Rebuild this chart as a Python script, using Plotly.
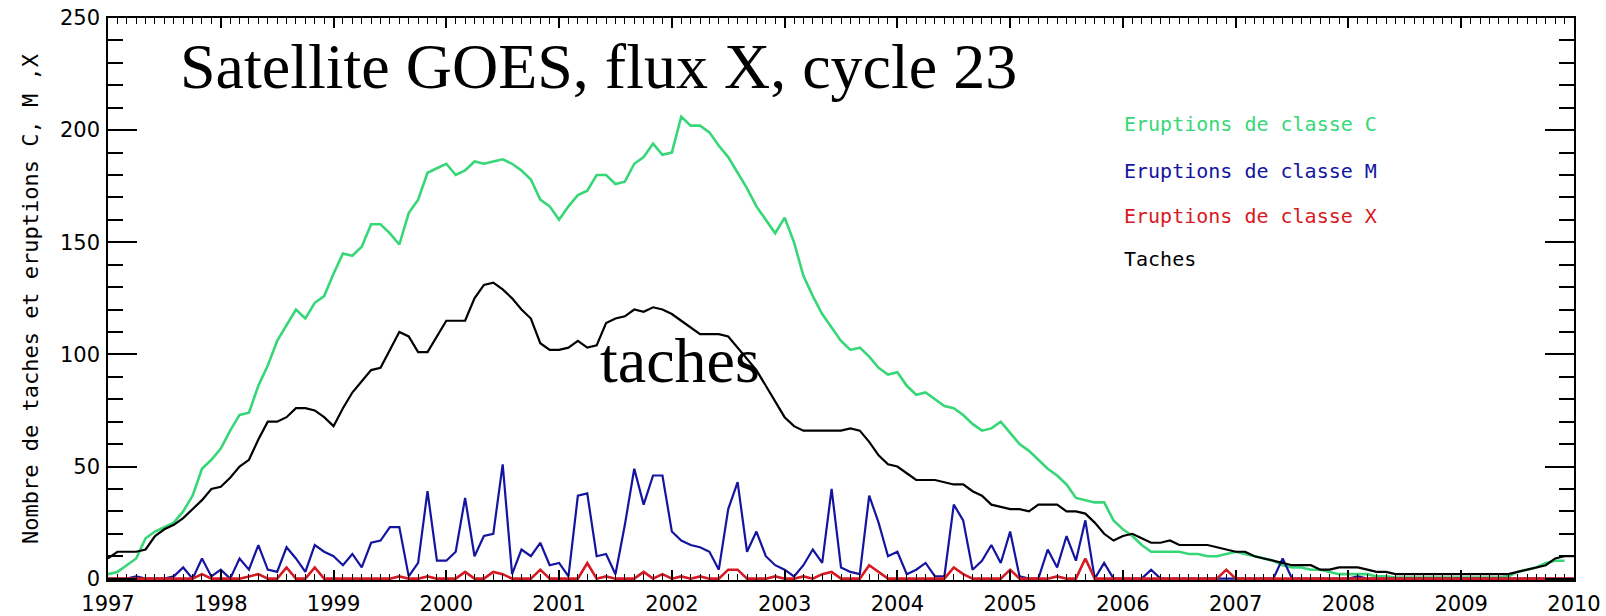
import plotly.graph_objects as go

# monthly values, Jan 1997 -> Jan 2010
classe_c = [2, 3, 6, 9, 18, 21, 23, 25, 30, 37,
            49, 53, 58, 66, 73, 74, 86, 95, 106, 113,
            120, 116, 123, 126, 136, 145, 144, 148, 158, 158,
            154, 149, 163, 169, 181, 183, 185, 180, 182, 186,
            185, 186, 187, 185, 182, 178, 169, 166, 160, 166,
            171, 173, 180, 180, 176, 177, 185, 188, 194, 189,
            190, 206, 202, 202, 199, 193, 188, 181, 174, 166,
            160, 154, 161, 150, 135, 126, 118, 112, 106, 102,
            103, 99, 94, 91, 92, 86, 82, 83, 80, 77,
            76, 73, 69, 66, 67, 70, 65, 60, 57, 53,
            49, 46, 42, 36, 35, 34, 34, 26, 22, 19,
            15, 12, 12, 12, 12, 11, 11, 10, 10, 11,
            12, 11, 10, 9, 8, 6, 5, 5, 4, 4,
            3, 2, 2, 2, 2, 1, 1, 0.5, 0.5, 0.5,
            0.5, 0.5, 0.5, 0.5, 0.5, 0.5, 0.5, 0.5, 0.5, 1,
            3, 4, 5, 7, 8, 8]

classe_m = [0, 0, 0, 1, 0, 0, 0, 1, 5, 0,
            9, 1, 4, 0, 9, 4, 15, 4, 3, 14,
            9, 3, 15, 12, 10, 6, 11, 5, 16, 17,
            23, 23, 1, 7, 39, 8, 8, 12, 36, 10,
            19, 20, 51, 2, 13, 10, 16, 6, 7, 1,
            37, 38, 10, 11, 2, 24, 49, 33, 46, 46,
            21, 17, 15, 14, 12, 4, 31, 43, 12, 21,
            10, 6, 4, 1, 6, 13, 7, 40, 5, 3,
            2, 37, 25, 10, 12, 2, 4, 7, 1, 1,
            33, 26, 4, 8, 15, 7, 21, 1, 0, 0,
            13, 5, 19, 8, 26, 0, 7, 0, 0, 0,
            0, 4, 0, 0, 0, 0, 0, 0, 0, 0,
            0, 0, 0, 0, 0, 9, 0, 0, 0, 0,
            0, 0, 0, 1, 0, 0, 0, 0, 0, 0,
            0, 0, 0, 0, 0, 0, 0, 0, 0, 0,
            0, 0, 0, 0, 0, 0, 0]

classe_x = [0, 0, 0, 0, 0, 0, 0, 0, 0, 0,
            2, 0, 0, 0, 0, 1, 2, 0, 0, 5,
            0, 0, 5, 0, 0, 0, 0, 0, 0, 0,
            0, 1, 0, 0, 1, 0, 0, 0, 3, 0,
            0, 3, 2, 0, 0, 0, 4, 0, 0, 0,
            0, 7, 0, 1, 0, 0, 0, 3, 0, 2,
            0, 1, 0, 1, 0, 0, 4, 4, 0, 0,
            0, 1, 0, 0, 1, 0, 2, 3, 0, 0,
            0, 6, 3, 0, 0, 0, 0, 0, 0, 0,
            5, 2, 0, 0, 0, 0, 4, 0, 0, 0,
            0, 1, 0, 0, 9, 0, 0, 0, 0, 0,
            0, 0, 0, 0, 0, 0, 0, 0, 0, 4,
            0, 0, 0, 0, 0, 0, 0, 0, 0, 0,
            0, 0, 0, 0, 0, 0, 0, 0, 0, 0,
            0, 0, 0, 0, 0, 0, 0, 0, 0, 0,
            0, 0, 0, 0, 0, 0, 0]

taches = [9, 12, 12, 12, 13, 19, 22, 24, 27, 31,
          35, 40, 41, 45, 50, 53, 62, 70, 70, 72,
          76, 76, 75, 72, 68, 76, 83, 88, 93, 94,
          102, 110, 108, 101, 101, 108, 115, 115, 115, 125,
          131, 132, 129, 125, 120, 116, 105, 102, 102, 103,
          106, 103, 104, 114, 116, 117, 120, 119, 121, 120,
          118, 115, 112, 109, 109, 109, 108, 103, 98, 93,
          86, 79, 72, 68, 66, 66, 66, 66, 66, 67,
          66, 61, 55, 51, 50, 47, 44, 44, 44, 43,
          42, 42, 39, 37, 33, 32, 31, 31, 30, 33,
          33, 33, 30, 30, 29, 25, 20, 17, 19, 20,
          18, 16, 16, 17, 15, 15, 15, 15, 14, 13,
          12, 12, 10, 9, 8, 7, 6, 6, 6, 4,
          4, 5, 5, 5, 4, 3, 3, 2, 2, 2,
          2, 2, 2, 2, 2, 2, 2, 2, 2, 2,
          3, 4, 5, 6, 9, 10, 10]

months = [1997 + k / 12 for k in range(len(taches))]

GREEN = "rgb(55,215,120)"
BLUE = "rgb(20,20,160)"
RED = "rgb(215,25,35)"

series = [
    ("Eruptions de classe C", classe_c, GREEN, 2.6),
    ("Eruptions de classe M", classe_m, BLUE, 2.2),
    ("Eruptions de classe X", classe_x, RED, 2.6),
    ("Taches", taches, "black", 2.2),
]

fig = go.Figure()
for name, vals, col, w in series:
    fig.add_trace(go.Scatter(x=months[:len(vals)], y=vals, mode="lines", name=name,
                             line=dict(color=col, width=w)))

# legend written as plain coloured text, like the IDL original
leg_y = [0.811, 0.727, 0.647, 0.572]
for (name, _, col, _), yy in zip(series, leg_y):
    fig.add_annotation(x=0.6917, y=yy, xref="paper", yref="paper", text=name,
                       showarrow=False, xanchor="left", yanchor="middle",
                       font=dict(family="DejaVu Sans Mono", size=20, color=col))

fig.add_annotation(x=0.048, y=0.913, xref="paper", yref="paper",
                   text="Satellite GOES, flux X, cycle 23", showarrow=False,
                   xanchor="left", yanchor="middle",
                   font=dict(family="Liberation Serif", size=64, color="black"))
fig.add_annotation(x=0.3345, y=0.390, xref="paper", yref="paper",
                   text="taches", showarrow=False, xanchor="left", yanchor="middle",
                   font=dict(family="Liberation Serif", size=64, color="black"))

axis_common = dict(showline=True, linecolor="black", linewidth=1.5, mirror="allticks",
                   ticks="inside", tickcolor="black", tickwidth=1.5,
                   showgrid=False, zeroline=False, automargin=False,
                   tickfont=dict(family="DejaVu Sans", size=21, color="black"))

fig.update_xaxes(range=[1997, 2010], tick0=1997, dtick=1, ticklen=10,
                 ticklabelstandoff=4,
                 minor=dict(tick0=1997, dtick=1 / 12, ticks="inside", ticklen=6,
                            tickcolor="black", tickwidth=1),
                 **axis_common)
fig.update_yaxes(range=[-0.6, 250], tick0=0, dtick=50, ticklen=29,
                 ticklabelstandoff=2,
                 minor=dict(tick0=0, dtick=10, ticks="inside", ticklen=15,
                            tickcolor="black", tickwidth=1.5),
                 title=dict(text="Nombre de taches et eruptions C, M ,X", standoff=15,
                            font=dict(family="DejaVu Sans Mono", size=22, color="black")),
                 **axis_common)

fig.update_layout(width=1606, height=616, margin=dict(l=108, r=32, t=18, b=36),
                  paper_bgcolor="white", plot_bgcolor="white", showlegend=False)

# drop the browser's default 8px body margin so the figure fills the window exactly
fig.write_html("out.html", config={"displayModeBar": False},
               post_script="document.body.style.margin='0px';")
